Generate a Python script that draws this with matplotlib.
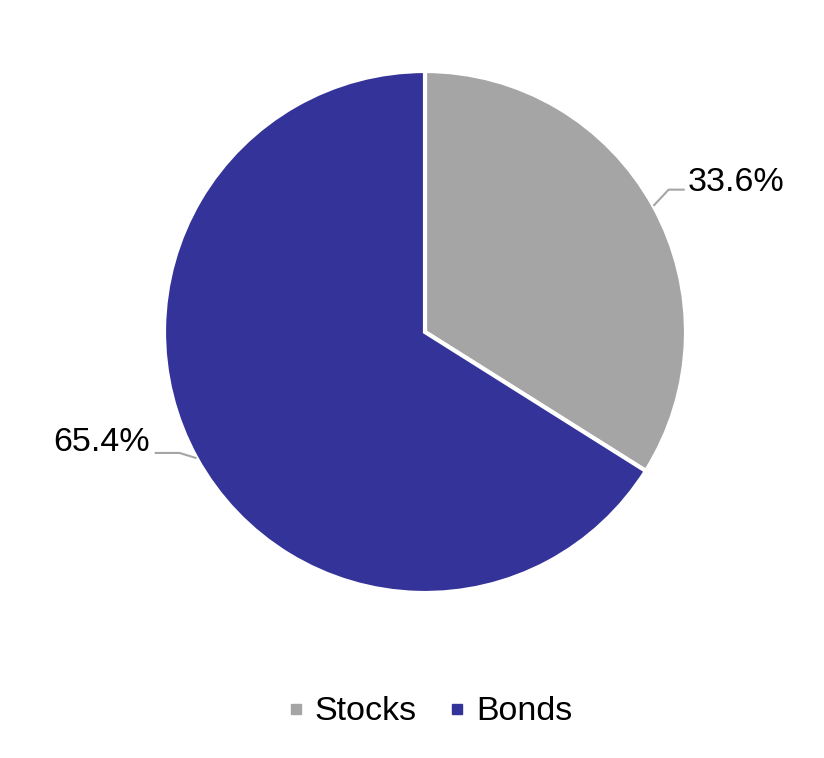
import numpy as np
import matplotlib
matplotlib.use("Agg")
import matplotlib.pyplot as plt
from matplotlib.lines import Line2D

plt.rcParams['font.family'] = ['Liberation Sans', 'DejaVu Sans']

categories = ["Stocks", "Bonds"]
values = [33.6, 65.4]
labels = ["33.6%", "65.4%"]
colors = ["#A5A5A5", "#333399"]

W, H = 824, 758
fig = plt.figure(figsize=(W / 100, H / 100), dpi=100)
cx, cy, r = 425, 332, 261
ax = fig.add_axes([(cx - r) / W, 1 - (cy + r) / H, 2 * r / W, 2 * r / H])

wedges, _ = ax.pie(values, colors=colors, startangle=90, counterclock=False,
                   radius=1, wedgeprops=dict(edgecolor="white", linewidth=3))
ax.set_xlim(-1, 1)
ax.set_ylim(-1, 1)
ax.axis("off")

# leader lines and labels
for i, w in enumerate(wedges):
    ang = np.deg2rad((w.theta1 + w.theta2) / 2)
    px, py = np.cos(ang), np.sin(ang)
    if px > 0:
        ex, ey = px + 0.058, py + 0.062
        tx = px + 0.12
        ax.plot([px, ex, tx], [py, ey, ey], color="#A5A5A5", lw=1.5,
                solid_capstyle="butt", clip_on=False)
        ax.text(tx + 0.01, ey - 0.005, labels[i], ha="left", va="baseline",
                fontsize=24.5, color="#000000")
    else:
        ex, ey = px - 0.065, py + 0.02
        tx = px - 0.16
        ax.plot([px, ex, tx], [py, ey, ey], color="#A5A5A5", lw=1.5,
                solid_capstyle="butt", clip_on=False)
        ax.text(tx - 0.02, ey + 0.04, labels[i], ha="right", va="center",
                fontsize=24.5, color="#000000")

handles = [Line2D([], [], marker="s", linestyle="none", markersize=7,
                  markerfacecolor=c, markeredgecolor=c) for c in colors]
fig.legend(handles, categories, loc="center", bbox_to_anchor=(429 / W, 1 - 712 / H),
           ncol=2, frameon=False, fontsize=24.5, handlelength=0.6, handletextpad=0.25,
           columnspacing=0.9)

fig.savefig("out.png", dpi=100, facecolor="white")
